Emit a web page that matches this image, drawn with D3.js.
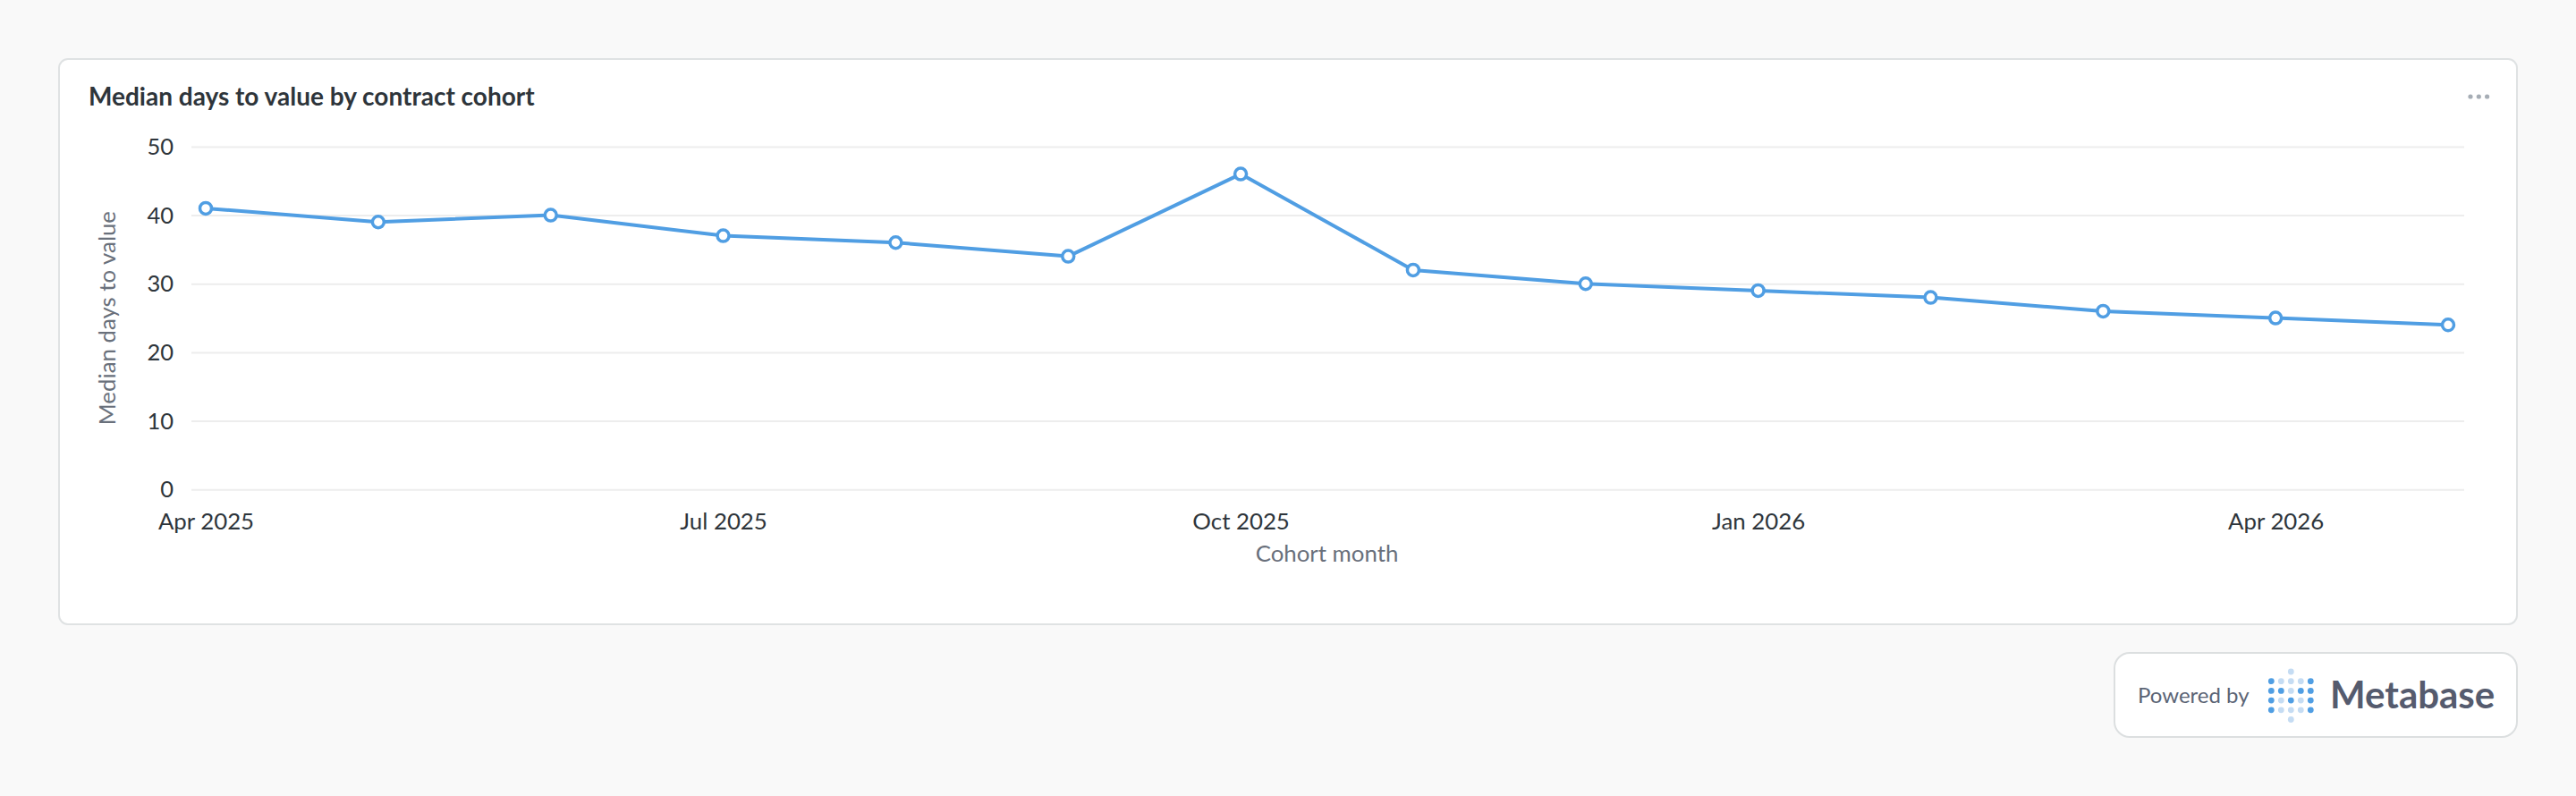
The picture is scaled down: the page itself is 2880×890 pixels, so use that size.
<!DOCTYPE html>
<html>
<head>
<meta charset="utf-8">
<script src="https://cdn.jsdelivr.net/npm/d3@7"></script>
<style>
  html, body { margin: 0; padding: 0; background: #f9f9f9; }
  svg { display: block; font-family: Lato, "Open Sans", sans-serif; }
</style>
</head>
<body>
<svg id="chart" width="2880" height="890"></svg>
<script>
const chartTitle = "Median days to value by contract cohort";
const months = ["Apr 2025","May 2025","Jun 2025","Jul 2025","Aug 2025","Sep 2025","Oct 2025",
                "Nov 2025","Dec 2025","Jan 2026","Feb 2026","Mar 2026","Apr 2026","May 2026"];
const medianDays = [41, 39, 40, 37, 36, 34, 46, 32, 30, 29, 28, 26, 25, 24];
const xTickLabels = ["Apr 2025","Jul 2025","Oct 2025","Jan 2026","Apr 2026"];
const yTickValues = [0, 10, 20, 30, 40, 50];
const xAxisTitle = "Cohort month";
const yAxisTitle = "Median days to value";

const svg = d3.select("#chart");
const blue = "#509ee3";

// background
svg.append("rect").attr("width", 2880).attr("height", 890).attr("fill", "#f9f9f9");

// card
svg.append("rect").attr("x", 66).attr("y", 66).attr("width", 2748).attr("height", 632)
  .attr("rx", 10).attr("fill", "#ffffff").attr("stroke", "#dfe2e3").attr("stroke-width", 2);

// title
svg.append("text").attr("x", 99).attr("y", 117.5)
  .attr("font-size", 28).attr("font-weight", 700).attr("fill", "#2e353b")
  .text(chartTitle);

// menu dots
svg.append("g").selectAll("circle").data([0, 1, 2]).join("circle")
  .attr("cx", d => 2762 + d * 9.3).attr("cy", 108).attr("r", 2.6).attr("fill", "#a6adb5");

// scales
const x = d3.scalePoint().domain(months).range([230, 2737]);
const y = d3.scaleLinear().domain([0, 50]).range([547.3, 163.9]);

// y axis with gridlines
const yAxis = svg.append("g").attr("transform", "translate(214,0)")
  .call(d3.axisLeft(y).tickValues(yTickValues).tickSizeInner(-(2755 - 214)).tickSizeOuter(0).tickPadding(20));
yAxis.select(".domain").remove();
yAxis.selectAll(".tick line").attr("stroke", "#ededed").attr("stroke-width", 2);
yAxis.selectAll(".tick text").attr("font-size", 25.5).attr("fill", "#2e353b")
  .attr("font-family", "Lato").attr("dy", "0.34em");

// x axis
const xAxis = svg.append("g").attr("transform", "translate(0,547.3)")
  .call(d3.axisBottom(x).tickValues(xTickLabels).tickSize(0).tickPadding(0));
xAxis.select(".domain").remove();
xAxis.selectAll(".tick text").attr("font-size", 25.8).attr("fill", "#2e353b")
  .attr("font-family", "Lato").attr("y", 44.6).attr("dy", 0);

// axis titles
svg.append("text").attr("x", 1483.5).attr("y", 628).attr("text-anchor", "middle")
  .attr("font-size", 25.8).attr("fill", "#69707b").text(xAxisTitle);
svg.append("text").attr("transform", "translate(129,355.6) rotate(-90)").attr("text-anchor", "middle")
  .attr("font-size", 25.8).attr("fill", "#69707b").text(yAxisTitle);

// line
const line = d3.line().x((d, i) => x(months[i])).y(d => y(d));
svg.append("path").datum(medianDays).attr("d", line)
  .attr("fill", "none").attr("stroke", blue).attr("stroke-width", 4)
  .attr("stroke-linejoin", "round").attr("stroke-linecap", "round");
svg.append("g").selectAll("circle").data(medianDays).join("circle")
  .attr("cx", (d, i) => x(months[i])).attr("cy", d => y(d)).attr("r", 6.5)
  .attr("fill", "#ffffff").attr("stroke", blue).attr("stroke-width", 3.5);

// Powered by badge
const badge = svg.append("g");
badge.append("rect").attr("x", 2364).attr("y", 730).attr("width", 450).attr("height", 94)
  .attr("rx", 17).attr("fill", "#ffffff").attr("stroke", "#dcdfe0").attr("stroke-width", 2);
badge.append("text").attr("x", 2390).attr("y", 786).attr("font-size", 24).attr("fill", "#5b6475")
  .text("Powered by");
const logoRows = [
  "DLLLD",
  "DDLDD",
  "DLDLD",
  "DLLLD"
];
const logoDots = [];
logoRows.forEach((row, r) => row.split("").forEach((c, k) => logoDots.push({ r: r, c: k, dark: c === "D" })));
logoDots.push({ r: -1, c: 2, dark: false });
logoDots.push({ r: 4, c: 2, dark: false });
badge.append("g").selectAll("circle").data(logoDots).join("circle")
  .attr("cx", d => 2539.3 + d.c * 11).attr("cy", d => 761.7 + d.r * 10.7).attr("r", 3.4)
  .attr("fill", d => d.dark ? blue : "#c5dcf3");
badge.append("text").attr("x", 2605).attr("y", 792).attr("font-size", 42).attr("font-weight", 700)
  .attr("fill", "#555b6e").text("Metabase");
</script>
</body>
</html>
